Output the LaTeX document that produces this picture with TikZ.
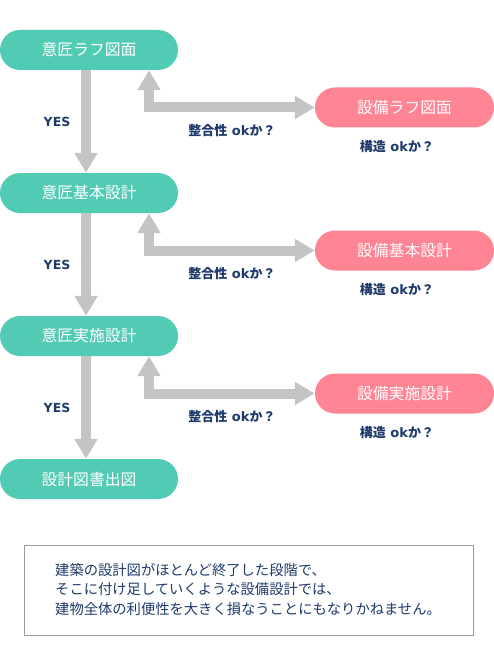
\documentclass[tikz,border=0pt]{standalone}
\usepackage{fontspec}
\setmainfont{Noto Sans CJK JP}
\newfontfamily\latf{DejaVu Sans}
\usetikzlibrary{arrows.meta,calc}
\definecolor{gbox}{HTML}{52CBB4}
\definecolor{pbox}{HTML}{FF8494}
\definecolor{navy}{HTML}{1E3A6A}
\definecolor{arrgray}{HTML}{C4C4C4}
\definecolor{frame}{HTML}{9A9A9A}
\tikzset{bigtip/.tip={Triangle[length=20pt,width=22pt]}}
\newcommand{\okq}{整合性{\latf\bfseries\ ok}か？}
\newcommand{\kozo}{構造{\latf\bfseries\ ok}か？}
\begin{document}
\begin{tikzpicture}[x=1pt,y=1pt,
  gnode/.style={fill=gbox,rounded corners=20pt,minimum width=178pt,minimum height=40pt,inner sep=0pt,text=white,font=\fontsize{15.8}{18}\selectfont},
  pnode/.style={fill=pbox,rounded corners=20pt,minimum width=179pt,minimum height=40pt,inner sep=0pt,text=white,font=\fontsize{15.8}{18}\selectfont},
  lbl/.style={text=navy,font=\fontsize{13}{15}\selectfont\bfseries,inner sep=0pt},
  bigarrow/.style={draw=arrgray,line width=10pt,line join=miter}
]
\useasboundingbox (0,0) rectangle (494,-650);
\foreach \i/\g/\p in {0/意匠ラフ図面/設備ラフ図面,1/意匠基本設計/設備基本設計,2/意匠実施設計/設備実施設計}{
  \node[gnode] (g\i) at (89,{-50-143*\i}) {\g};
  \node[pnode] (p\i) at (404.5,{-107.5-143*\i}) {\p};
  \node[lbl] (k\i) at (232,{-131-143*\i}) {\okq};
  \node[lbl] (s\i) at (397,{-147-143*\i}) {\kozo};
  \node[lbl,font=\fontsize{12.5}{15}\selectfont\latf\bfseries] (y\i) at (57,{-122-143*\i}) {YES};
}
\node[gnode] (g3) at (89,-479) {設計図書出図};
\foreach \i/\j in {0/1,1/2,2/3}{
  \draw[bigarrow,-bigtip] ([xshift=-3pt]g\i.south) -- ([xshift=-3pt]g\j.north);
}
\foreach \i in {0,1,2}{
  \draw[bigarrow,bigtip-bigtip] ([xshift=60pt]g\i.south) |- (p\i.west);
}
\node[draw=frame,line width=1pt,minimum width=449pt,minimum height=90pt,inner sep=0pt] (note) at (248.5,-590) {};
\node[text=navy,align=left,anchor=west,inner sep=0pt,font=\fontsize{14.3}{19.3}\selectfont] (notetext) at (55,-589.5)
{建築の設計図がほとんど終了した段階で、\\そこに付け足していくような設備設計では、\\建物全体の利便性を大きく損なうことにもなりかねません。};
\end{tikzpicture}
\end{document}
